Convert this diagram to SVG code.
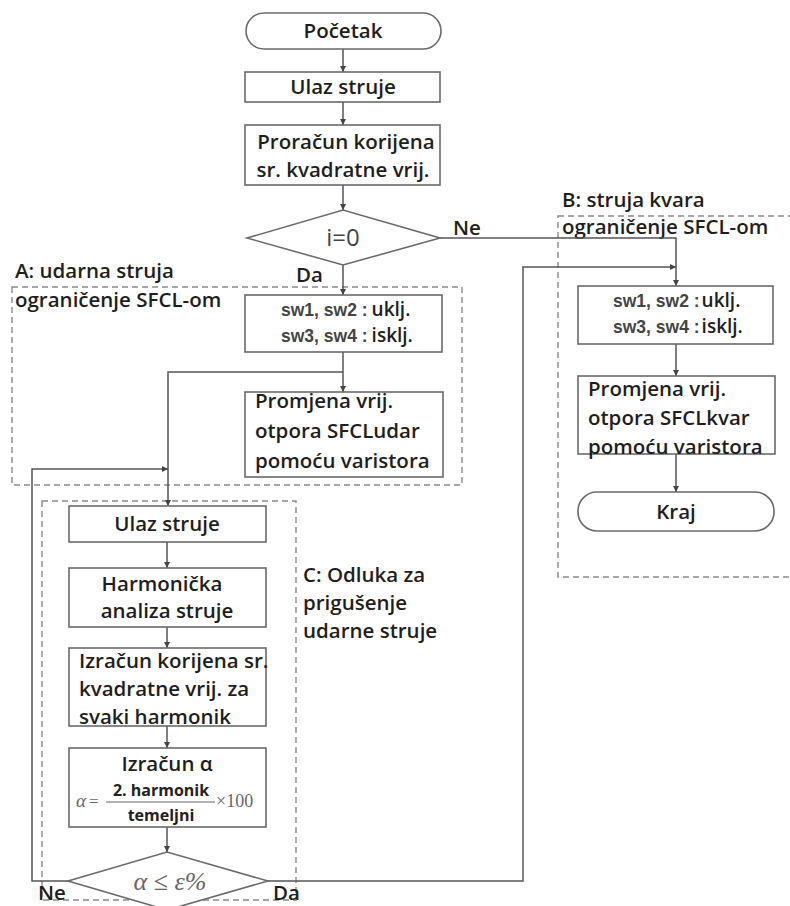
<svg xmlns="http://www.w3.org/2000/svg" width="790" height="906" viewBox="0 0 790 906">
<style>
.box{fill:#fff;stroke:#6a6a6a;stroke-width:1.6}
.grp{fill:none;stroke:#8a8a8a;stroke-width:1.4;stroke-dasharray:6,4}
.ln{fill:none;stroke:#555;stroke-width:1.5}
.t{font-family:"Open Sans","Noto Sans",sans-serif;font-weight:600;font-size:20.5px;fill:#1e1e1e}
.c{text-anchor:middle}
.sw{font-family:"Liberation Sans",Arial,sans-serif;font-weight:700;font-size:17.5px;fill:#444}
.u{font-family:"Open Sans","Noto Sans",sans-serif;font-weight:600;font-size:19px;fill:#1e1e1e}
.m{font-family:"Liberation Serif","Times New Roman",serif;fill:#666}
.f{font-family:"Open Sans","Noto Sans",sans-serif;font-weight:700;font-size:16px;fill:#222;text-anchor:middle}
</style>
<defs>
<marker id="ah" viewBox="0 0 8 8" refX="8" refY="4" markerWidth="6" markerHeight="6" orient="auto" markerUnits="userSpaceOnUse">
<path d="M0,0 L8,4 L0,8 z" fill="#444"/>
</marker>
</defs>
<rect width="790" height="906" fill="#fff"/>

<g id="groups">
<rect class="grp" x="12" y="287" width="450" height="198"/>
<rect class="grp" x="558" y="216" width="240" height="361"/>
<rect class="grp" x="42" y="501" width="254" height="399"/>
<text class="t" x="15" y="278">A: udarna struja</text>
<text class="t" x="15" y="307">ograničenje SFCL-om</text>
<text class="t" x="562" y="207">B: struja kvara</text>
<text class="t" x="562" y="234">ograničenje SFCL-om</text>
<text class="t" x="303" y="582">C: Odluka za</text>
<text class="t" x="303" y="610">prigušenje</text>
<text class="t" x="303" y="638">udarne struje</text>
</g>

<g id="connectors">
<path class="ln" d="M343,49 V72" marker-end="url(#ah)"/>
<path class="ln" d="M343,102 V125" marker-end="url(#ah)"/>
<path class="ln" d="M343,185 V210" marker-end="url(#ah)"/>
<path class="ln" d="M343,265 V295" marker-end="url(#ah)"/>
<path class="ln" d="M440,238 H676 V286" marker-end="url(#ah)"/>
<path class="ln" d="M343,352 V392" marker-end="url(#ah)"/>
<path class="ln" d="M343,372 H168 V506" marker-end="url(#ah)"/>
<path class="ln" d="M167,542 V568" marker-end="url(#ah)"/>
<path class="ln" d="M167,627 V648" marker-end="url(#ah)"/>
<path class="ln" d="M167,726 V748" marker-end="url(#ah)"/>
<path class="ln" d="M167,827 V852" marker-end="url(#ah)"/>
<path class="ln" d="M68,881 H32 V469 H168" marker-end="url(#ah)"/>
<path class="ln" d="M268,881 H523 V267 H676" marker-end="url(#ah)"/>
<path class="ln" d="M676,344 V376" marker-end="url(#ah)"/>
<path class="ln" d="M676,454 V492" marker-end="url(#ah)"/>
<text class="t" x="453" y="235">Ne</text>
<text class="t" x="296" y="282">Da</text>
<text class="t" x="38" y="900" font-size="19">Ne</text>
<text class="t" x="273" y="900" font-size="19">Da</text>
</g>

<g id="start">
<rect class="box" x="246" y="13" width="195" height="36" rx="18"/>
<text class="t c" x="343" y="38">Početak</text>
</g>

<g id="input1">
<rect class="box" x="245" y="72" width="195" height="30"/>
<text class="t c" x="343" y="94">Ulaz struje</text>
</g>

<g id="rms1">
<rect class="box" x="245" y="125" width="195" height="60"/>
<text class="t c" x="346" y="149">Proračun korijena</text>
<text class="t c" x="343" y="177">sr. kvadratne vrij.</text>
</g>

<g id="dec1">
<polygon class="box" points="247,238 343,210 440,238 343,265"/>
<text x="343" y="246" text-anchor="middle" font-family="Open Sans, sans-serif" font-size="24" fill="#444">i=0</text>
</g>

<g id="a1">
<rect class="box" x="245" y="295" width="197" height="57"/>
<text x="281" y="316"><tspan class="sw">sw1, sw2 :</tspan><tspan class="u" dx="4">uklj.</tspan></text>
<text x="281" y="342"><tspan class="sw">sw3, sw4 :</tspan><tspan class="u" dx="4">isklj.</tspan></text>
</g>

<g id="a2">
<rect class="box" x="245" y="392" width="198" height="85"/>
<text class="t" x="255" y="408">Promjena vrij.</text>
<text class="t" x="255" y="438">otpora SFCLudar</text>
<text class="t" x="255" y="468">pomoću varistora</text>
</g>

<g id="b1">
<rect class="box" x="578" y="286" width="195" height="58"/>
<text x="613" y="307"><tspan class="sw">sw1, sw2 :</tspan><tspan class="u" dx="2">uklj.</tspan></text>
<text x="613" y="333"><tspan class="sw">sw3, sw4 :</tspan><tspan class="u" dx="2">isklj.</tspan></text>
</g>

<g id="b2">
<rect class="box" x="578" y="376" width="197" height="78"/>
<text class="t" x="588" y="396">Promjena vrij.</text>
<text class="t" x="588" y="425">otpora SFCLkvar</text>
<text class="t" x="588" y="454">pomoću varistora</text>
</g>

<g id="end">
<rect class="box" x="578" y="492" width="196" height="39" rx="19"/>
<text class="t c" x="676" y="519">Kraj</text>
</g>

<g id="c1">
<rect class="box" x="69" y="506" width="197" height="36"/>
<text class="t c" x="167" y="531">Ulaz struje</text>
</g>

<g id="c2">
<rect class="box" x="69" y="568" width="197" height="59"/>
<text class="t c" x="162" y="591">Harmonička</text>
<text class="t c" x="167" y="618">analiza struje</text>
</g>

<g id="c3">
<rect class="box" x="69" y="648" width="197" height="78"/>
<text class="t" x="79" y="668">Izračun korijena sr.</text>
<text class="t" x="79" y="696">kvadratne vrij. za</text>
<text class="t" x="79" y="724">svaki harmonik</text>
</g>

<g id="c4">
<rect class="box" x="69" y="748" width="197" height="79"/>
<text class="t c" x="167" y="771">Izračun α</text>
<text class="m" x="76" y="807" font-size="19" font-style="italic">α</text>
<text class="m" x="89" y="807" font-size="17">=</text>
<text class="f" x="161" y="796">2. harmonik</text>
<line x1="106" y1="802" x2="215" y2="802" stroke="#666" stroke-width="1.2"/>
<text class="f" x="161" y="821" font-size="17">temeljni</text>
<text class="m" x="216" y="807" font-size="18">×100</text>
</g>

<g id="dec2">
<polygon class="box" points="68,881 167,852 268,881 167,910"/>
<text class="m" x="170" y="890" text-anchor="middle" font-size="26" font-style="italic">α ≤ ε%</text>
</g>
</svg>
